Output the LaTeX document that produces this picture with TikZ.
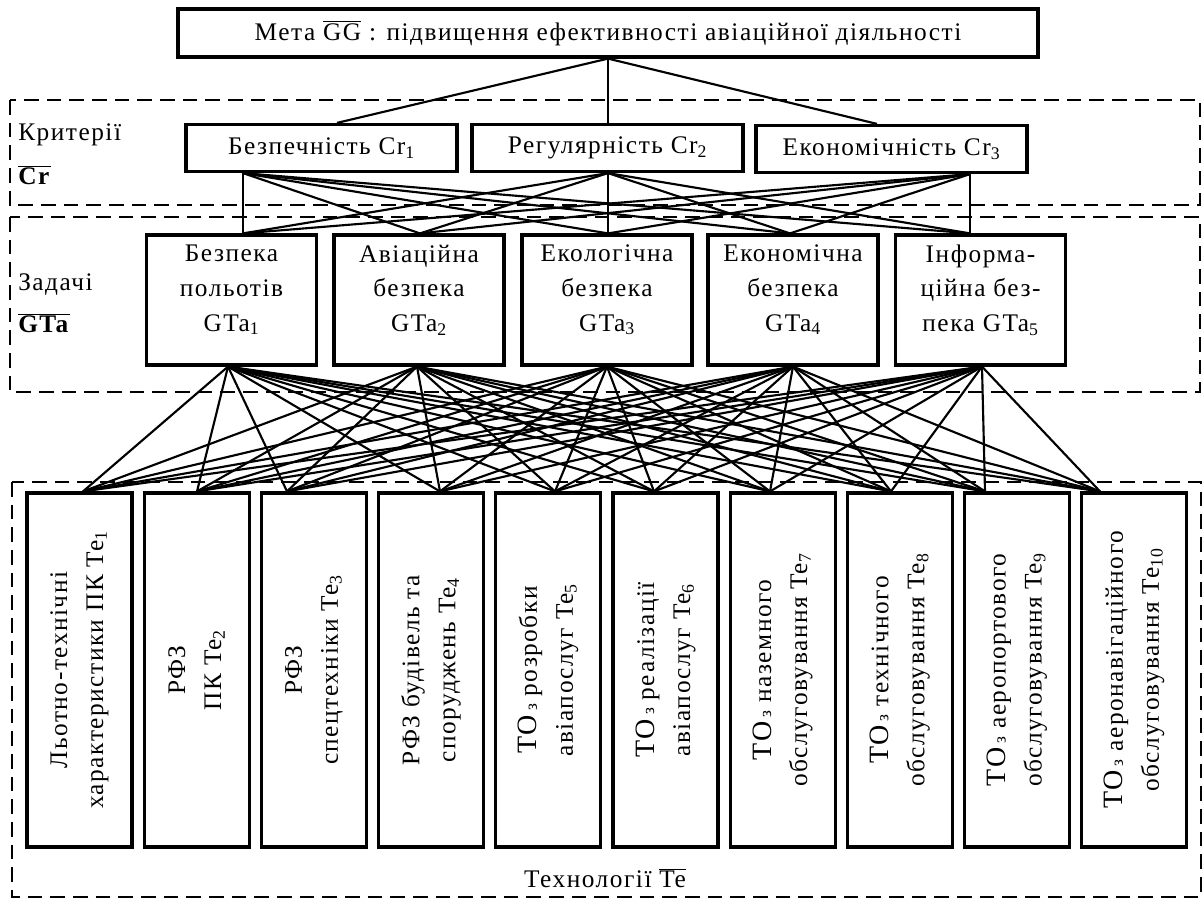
\documentclass[tikz,border=0pt]{standalone}
\usepackage{fontspec}
\setmainfont[LetterSpace=6]{Liberation Serif}
\newcommand\ovl[1]{$\overline{\mbox{#1}}$}
% "ТО" set a little larger and the preposition "з" smaller, as in the labels
\newcommand\TOz{{\fontsize{21}{27}\selectfont ТО}\,{\fontsize{13}{27}\selectfont з}}
\begin{document}
\begin{tikzpicture}[x=0.75pt,y=-0.75pt,
  every node/.style={font=\fontsize{19}{26}\selectfont, inner sep=0pt},
  box/.style={draw, line width=2.4pt, align=center},
  crbox/.style={box, minimum width=271*0.75pt, minimum height=47*0.75pt},
  gtabox/.style={box, minimum width=170*0.75pt, minimum height=130*0.75pt},
  tebox/.style={box, minimum width=105*0.75pt, minimum height=354*0.75pt},
  vlabel/.style={rotate=90, align=center, font=\fontsize{19}{27}\selectfont},
  link/.style={line width=1.6pt},
  zone/.style={draw, line width=2.2pt, dash pattern=on 11pt off 6pt},
]
\useasboundingbox (0,0) rectangle (1203,899);

% dashed zones
\draw[zone] (10,100) rectangle (1200,205);
\draw[zone] (10,217) rectangle (1200,392);
\draw[zone] (12,482) rectangle (1201,897);

% zone captions
\node[anchor=west] (lcr) at (18,135) {Критерії};
\node[anchor=west] (lcrs) at (18,175) {\ovl{\textbf{Cr}}};
\node[anchor=west] (lgta) at (18,285) {Задачі};
\node[anchor=west] (lgtas) at (18,323) {\ovl{\textbf{GTa}}};
\node (lte) at (605,878) {Технології \ovl{Te}};

% goal
\node[box, minimum width=860*0.75pt, minimum height=48*0.75pt] (gg) at (608,33)
  {Мета \ovl{GG} : підвищення ефективності авіаційної діяльності};

% criteria
\node[crbox] (cr1) at (321.5,148) {Безпечність Cr\textsubscript{1}};
\node[crbox] (cr2) at (607.5,148) {Регулярність Cr\textsubscript{2}};
\node[crbox] (cr3) at (891.5,149) {Економічність Cr\textsubscript{3}};

% tasks
\foreach \i/\x in {1/231.5, 2/419, 3/607, 4/793, 5/980.5}
  \node[gtabox] (gta\i) at (\x,300) {};
\node[align=center] (gta1x) at (231.5,290) {Безпека\\польотів\\GTa\textsubscript{1}};
\node[align=center] (gta2x) at (419,290) {Авіаційна\\безпека\\GTa\textsubscript{2}};
\node[align=center] (gta3x) at (607,290) {Екологічна\\безпека\\GTa\textsubscript{3}};
\node[align=center] (gta4x) at (793,290) {Економічна\\безпека\\GTa\textsubscript{4}};
\node[align=center] (gta5x) at (980.5,290) {Інформа-\\ційна без-\\пека GTa\textsubscript{5}};

% technologies
\foreach \i in {1,...,10}
  \node[tebox] (te\i) at ({79.5+(\i-1)*117.2},670) {};
\node[vlabel] (te1x) at (te1) {Льотно-технічні\\характеристики ПК Te\textsubscript{1}};
\node[vlabel] (te2x) at (te2) {РФЗ\\ПК Te\textsubscript{2}};
\node[vlabel] (te3x) at (te3) {РФЗ\\спецтехніки Te\textsubscript{3}};
\node[vlabel] (te4x) at (te4) {РФЗ будівель та\\споруджень Te\textsubscript{4}};
\node[vlabel] (te5x) at (te5) {\TOz{} розробки\\авіапослуг Te\textsubscript{5}};
\node[vlabel] (te6x) at (te6) {\TOz{} реалізації\\авіапослуг Te\textsubscript{6}};
\node[vlabel] (te7x) at (te7) {\TOz{} наземного\\обслуговування Te\textsubscript{7}};
\node[vlabel] (te8x) at (te8) {\TOz{} технічного\\обслуговування Te\textsubscript{8}};
\node[vlabel] (te9x) at (te9) {\TOz{} аеропортового\\обслуговування Te\textsubscript{9}};
\node[vlabel] (te10x) at (te10) {\TOz{} аеронавігаційного\\обслуговування Te\textsubscript{10}};

% connection points on the box edges
\coordinate (ggb) at (gg.south -| 608,0);
\foreach \i/\t/\b in {1/337/243, 2/608/608, 3/877/970}{
  \coordinate (crt\i) at (cr\i.north -| \t,0);
  \coordinate (crb\i) at (cr\i.south -| \b,0);
}
\foreach \i/\t/\b in {1/243/228, 2/420/417, 3/608/607, 4/790/793, 5/970/982}{
  \coordinate (gtt\i) at (gta\i.north -| \t,0);
  \coordinate (gtb\i) at (gta\i.south -| \b,0);
}
\foreach \i/\t in {1/83, 2/197, 3/287, 4/440, 5/555, 6/654, 7/770, 8/891, 9/985, 10/1100}
  \coordinate (tet\i) at (te\i.north -| \t,0);

% goal -> criteria
\foreach \i in {1,2,3}
  \draw[link] (ggb) -- (crt\i);
% criteria -> tasks
\foreach \i in {1,2,3}
  \foreach \j in {1,...,5}
    \draw[link] (crb\i) -- (gtt\j);
% tasks -> technologies
\foreach \i in {1,...,5}
  \foreach \j in {1,...,10}
    \draw[link] (gtb\i) -- (tet\j);
\end{tikzpicture}
\end{document}
